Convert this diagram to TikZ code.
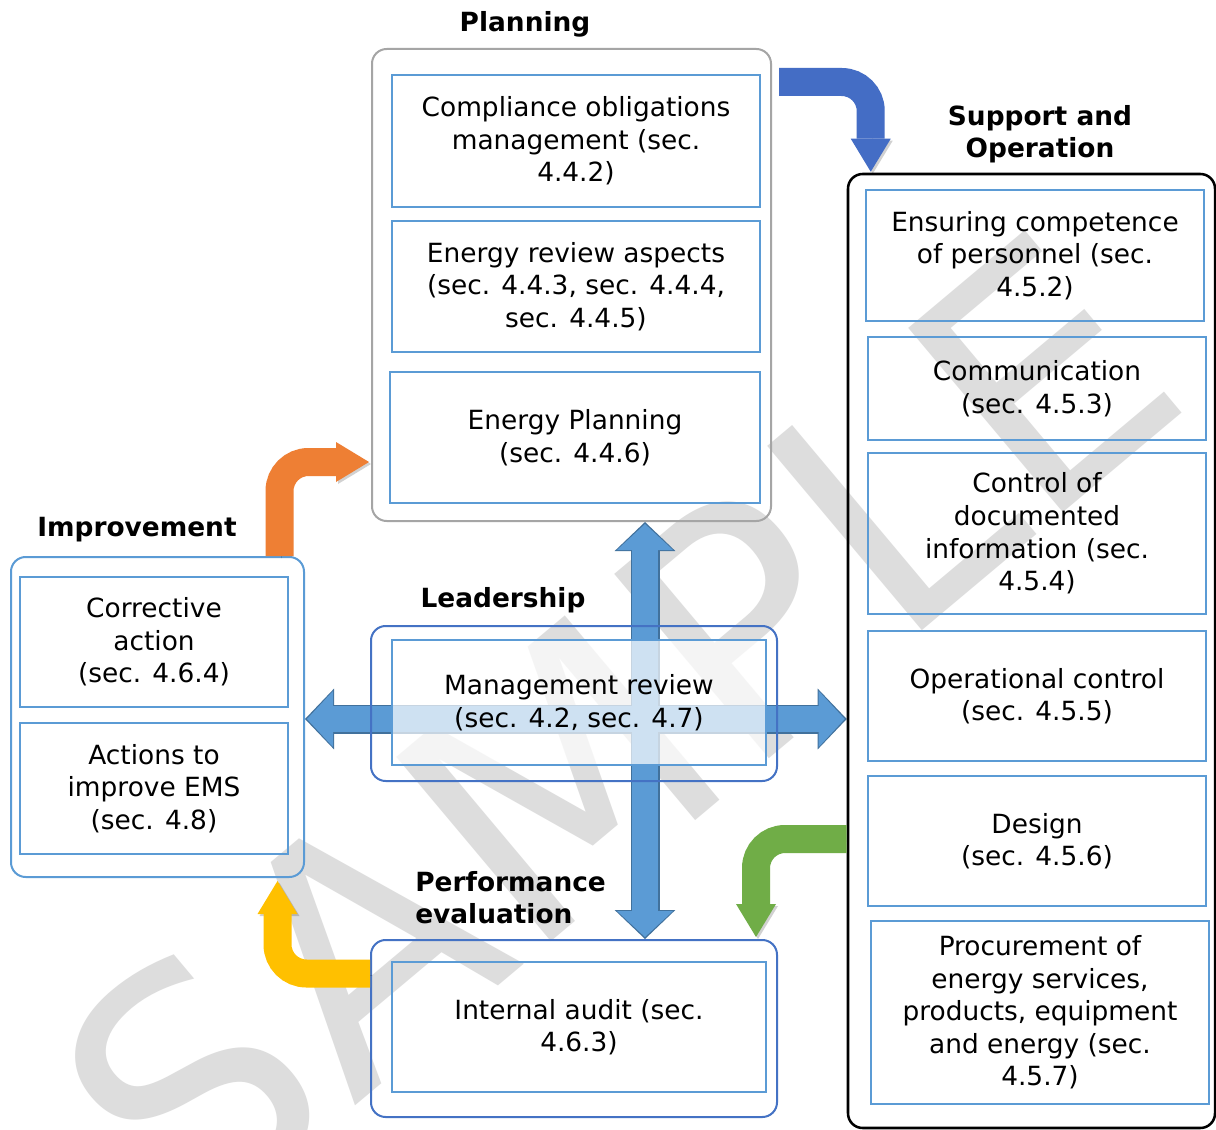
\documentclass[tikz,border=0pt]{standalone}
\usepackage{fontspec}
\setmainfont{DejaVu Sans}
\usetikzlibrary{arrows.meta,calc}
\pgfdeclarelayer{back}
\pgfsetlayers{back,main}

\definecolor{boxblue}{RGB}{91,155,213}
\definecolor{frameblue}{RGB}{68,114,196}
\definecolor{framegrey}{RGB}{165,165,165}
\definecolor{crossedge}{RGB}{65,113,156}
\definecolor{stampgrey}{RGB}{221,221,221}
\definecolor{arrowblue}{RGB}{68,109,197}
\definecolor{arroworange}{RGB}{238,127,52}
\definecolor{arrowgreen}{RGB}{112,173,71}
\definecolor{arrowyellow}{RGB}{255,192,0}

\tikzset{every picture/.style={line width=0.75pt}}

\begin{document}
\begin{tikzpicture}[x=0.75pt,y=0.75pt,yscale=-1,xscale=1,
  inbox/.style={draw=boxblue, line width=1.9pt, inner sep=0pt, align=center, font=\fontsize{19.8}{24.4}\selectfont},
  frame/.style={rounded corners=11pt, line width=1.5pt, inner sep=0pt},
  head/.style={font=\fontsize{19.8}{24}\selectfont\bfseries, inner sep=0pt},
  bent/.style={line width=21pt, rounded corners=21.75pt, -{Triangle[width=30pt,length=24.75pt,line width=0pt]},
    preaction={draw=black, opacity=0.18, transform canvas={shift={(1.5pt,-1.5pt)}}}},
  cross/.style={line width=21.75pt, draw=crossedge, {Triangle[width=45.5pt,length=21.75pt,line width=0pt]}-{Triangle[width=45.5pt,length=21.75pt,line width=0pt]}},
  crossin/.style={line width=19.5pt, draw=boxblue, shorten <=1.5pt, shorten >=1.5pt, {Triangle[width=42pt,length=19.5pt,line width=0pt]}-{Triangle[width=42pt,length=19.5pt,line width=0pt]}}
]
\useasboundingbox (0,0) rectangle (1216,1130);

% Planning
\node[frame, draw=framegrey, minimum width=299.25pt, minimum height=354pt] (plan) at (571.5,285) {};
\node[inbox, minimum width=276pt, minimum height=99pt] (oblig) at (576,141) {Compliance obligations\\management (sec.\\4.4.2)};
\node[inbox, minimum width=276pt, minimum height=98.25pt] (aspects) at (576,286.5) {Energy review aspects\\(sec. 4.4.3, sec. 4.4.4,\\sec. 4.4.5)};
\node[inbox, minimum width=277.5pt, minimum height=98.25pt] (enplan) at (575,437.5) {Energy Planning\\(sec. 4.4.6)};

% Support and Operation
\node[frame, draw=black, line width=1.9pt, minimum width=275.25pt, minimum height=715.5pt] (support) at (1031.5,651) {};
\node[inbox, minimum width=253.5pt, minimum height=98.25pt] (compet) at (1035,255.5) {Ensuring competence\\of personnel (sec.\\4.5.2)};
\node[inbox, minimum width=253.5pt, minimum height=77.25pt] (comm) at (1037,388.5) {Communication\\(sec. 4.5.3)};
\node[inbox, minimum width=253.5pt, minimum height=120.75pt] (docs) at (1037,533.5) {Control of\\documented\\information (sec.\\4.5.4)};
\node[inbox, minimum width=253.5pt, minimum height=97.5pt] (opctrl) at (1037,696) {Operational control\\(sec. 4.5.5)};
\node[inbox, minimum width=253.5pt, minimum height=97.5pt] (design) at (1037,841) {Design\\(sec. 4.5.6)};
\node[inbox, minimum width=253.5pt, minimum height=137.25pt] (procure) at (1040,1012.5) {Procurement of\\energy services,\\products, equipment\\and energy (sec.\\4.5.7)};

% Improvement
\node[frame, draw=boxblue, minimum width=219.75pt, minimum height=240pt] (improve) at (157.5,717) {};
\node[inbox, minimum width=201pt, minimum height=97.5pt] (correct) at (154,642) {Corrective\\action\\(sec. 4.6.4)};
\node[inbox, minimum width=201pt, minimum height=98.25pt] (actions) at (154,788.5) {Actions to\\improve EMS\\(sec. 4.8)};

% Leadership
\node[frame, draw=frameblue, minimum width=304.5pt, minimum height=116.25pt] (leader) at (574,703.5) {};
\node[inbox, fill=white, fill opacity=0.7, text opacity=1, minimum width=280.5pt, minimum height=93.75pt] (mgmt) at (579,702.5) {Management review\\(sec. 4.2, sec. 4.7)};

% Performance evaluation
\node[frame, draw=frameblue, minimum width=304.5pt, minimum height=132.75pt] (perf) at (574,1028.5) {};
\node[inbox, minimum width=280.5pt, minimum height=97.5pt] (audit) at (579,1027) {Internal audit (sec.\\4.6.3)};

% Stamp and cross arrows behind the boxes
\begin{pgfonlayer}{back}
\fill[white] (0,0) rectangle (1216,1130);
\node[rotate=40, text=stampgrey, inner sep=0pt, font=\fontsize{247.5}{247.5}\selectfont] (stamp) at (616,731) {SAMPLE};
\coordinate (hub) at (645,719);
\draw[cross] (plan.south -| hub) -- (perf.north -| hub);
\draw[cross] (improve.east |- hub) -- (support.west |- hub);
\draw[crossin] (plan.south -| hub) -- (perf.north -| hub);
\draw[crossin] (improve.east |- hub) -- (support.west |- hub);
\end{pgfonlayer}

% Bent arrows
\draw[bent, draw=arrowblue] ($(plan.north east)+(7,34)$) -| ($(support.north west)+(24,-1)$);
\draw[bent, draw=arroworange] ($(improve.north east)+(-25.5,0)$) |- ($(plan.south west)+(-2,-60)$);
\draw[bent, draw=arrowgreen] ($(support.west)+(0,188)$) -| ($(perf.north east)+(-22,-2)$);
\draw[bent, draw=arrowyellow] ($(perf.west)+(0,-55)$) -| ($(improve.south east)+(-27.5,3)$);

% Text Node
\node[head] (planhead) at (525,24) {Planning};
\node[head, align=center] (suphead) at (1040,134) {Support and\\Operation};
\node[head] (imphead) at (137,530) {Improvement};
\node[head] (leadhead) at (503,600) {Leadership};
\node[head, align=left, anchor=west] (perfhead) at (415,898) {Performance\\evaluation};

\end{tikzpicture}
\end{document}
